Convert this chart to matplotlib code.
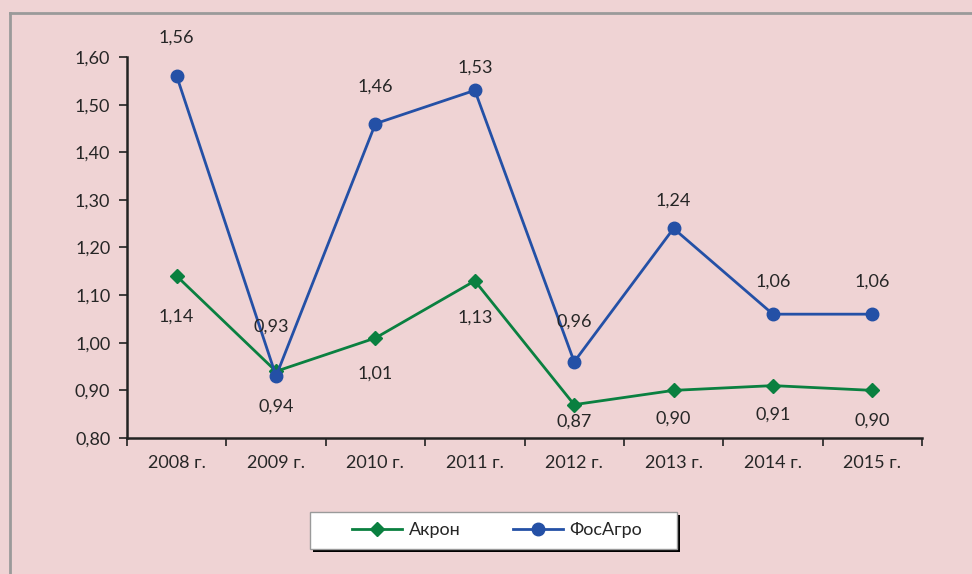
import matplotlib.pyplot as plt
from matplotlib.lines import Line2D
from matplotlib.patches import Rectangle

plt.rcParams["font.family"] = ["Lato", "DejaVu Sans"]

years = ["2008 г.", "2009 г.", "2010 г.", "2011 г.", "2012 г.", "2013 г.", "2014 г.", "2015 г."]
akron = [1.14, 0.94, 1.01, 1.13, 0.87, 0.90, 0.91, 0.90]
phosagro = [1.56, 0.93, 1.46, 1.53, 0.96, 1.24, 1.06, 1.06]

# label offsets in pixels (manual placement as in the source chart)
akron_off = [41, 35, 36, 37, 17, 28, 29, 30]
phos_off = [-38, -49, -37, -23, -40, -28, -33, -33]

BG = "#EFD3D4"
GREEN = "#0A8040"
BLUE = "#2450A6"
TXT = "#262626"
FS = 13

fig = plt.figure(figsize=(9.72, 5.74), dpi=100, facecolor=BG)
W, H = 972, 574

# outer frame (extends past the image on the right/bottom)
fig.add_artist(Line2D([10 / W, 1.0], [1 - 13 / H] * 2, color="#9a9a9a", lw=2))
fig.add_artist(Line2D([10 / W] * 2, [0.0, 1 - 13 / H], color="#9a9a9a", lw=2))

ax = fig.add_axes([127 / W, 1 - 438 / H, (922 - 127) / W, (438 - 57) / H])
ax.set_facecolor(BG)

x = list(range(len(years)))
ax.plot(x, akron, color=GREEN, lw=2, marker="D", ms=7, label="Акрон")
ax.plot(x, phosagro, color=BLUE, lw=2, marker="o", ms=9, label="ФосАгро")

for i, (a, p) in enumerate(zip(akron, phosagro)):
    ax.annotate(f"{a:.2f}".replace(".", ","), (i, a), xytext=(0, -akron_off[i]),
                textcoords="offset pixels", ha="center", va="center",
                fontsize=FS, color=TXT)
    dx = -5 if i == 1 else 0
    ax.annotate(f"{p:.2f}".replace(".", ","), (i, p), xytext=(dx, -phos_off[i]),
                textcoords="offset pixels", ha="center", va="center",
                fontsize=FS, color=TXT)

ax.set_xlim(-0.5, len(years) - 0.5)
ax.set_ylim(0.80, 1.60)
yt = [0.80 + 0.1 * k for k in range(9)]
ax.set_yticks(yt)
ax.set_yticklabels([f"{v:.2f}".replace(".", ",") for v in yt], fontsize=FS, color=TXT)
ax.set_xticks([k - 0.5 for k in range(len(years) + 1)])
ax.set_xticklabels([])
ax.set_xticks(x, minor=True)
ax.set_xticklabels(years, minor=True, fontsize=FS, color=TXT)
ax.tick_params(axis="x", which="minor", length=0, pad=12)
ax.tick_params(axis="x", which="major", length=6, width=1.2, color="#222222")
ax.tick_params(axis="y", length=6, width=1.2, color="#222222", pad=6)

for s in ["top", "right"]:
    ax.spines[s].set_visible(False)
for s in ["left", "bottom"]:
    ax.spines[s].set_linewidth(1.8)
    ax.spines[s].set_color("#222222")

# legend box with shadow
fig.add_artist(Rectangle((313 / W, 1 - 552 / H), 367 / W, 37 / H, transform=fig.transFigure,
                         facecolor="black", edgecolor="none"))
fig.add_artist(Rectangle((310 / W, 1 - 549 / H), 367 / W, 37 / H, transform=fig.transFigure,
                         facecolor="white", edgecolor="#9a9a9a", lw=1))
leg = fig.legend(loc="center", bbox_to_anchor=(497 / W, 1 - 530 / H), ncol=2,
                 frameon=False, fontsize=FS, handlelength=2.8,
                 columnspacing=2.9, handletextpad=0.35)
for t in leg.get_texts():
    t.set_color(TXT)

fig.savefig("out.png", dpi=100, facecolor=BG)
